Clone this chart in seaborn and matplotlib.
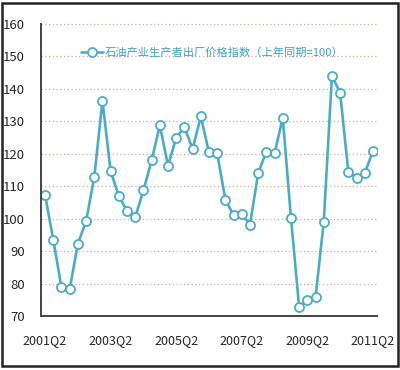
import pandas as pd
import seaborn as sns
import matplotlib.pyplot as plt
from matplotlib.patches import Rectangle

sns.set_style('white')
plt.rcParams['font.family'] = ['Liberation Sans Narrow', 'Noto Sans CJK SC', 'DejaVu Sans']

# quarterly labels, 2001Q2 .. 2011Q2
quarters = [f'{y}Q{q}' for y in range(2001, 2012) for q in range(1, 5)][1:42]
index_values = [107.3, 93.4, 78.8, 78.3, 92.3, 99.2, 112.8, 136.3, 114.6, 107.0,
                102.3, 100.5, 108.7, 118.0, 128.8, 116.3, 125.0, 128.2, 121.5, 131.5,
                120.4, 120.1, 105.8, 101.1, 101.3, 98.2, 114.0, 120.7, 120.1, 131.1,
                100.3, 72.7, 75.0, 75.8, 98.9, 144.0, 138.8, 114.5, 112.6, 114.0,
                120.8]
series_name = '石油产业生产者出厂价格指数（上年同期=100）'
y_ticks = [70, 80, 90, 100, 110, 120, 130, 140, 150, 160]
label_quarters = ['2001Q2', '2003Q2', '2005Q2', '2007Q2', '2009Q2', '2011Q2']

df = pd.DataFrame({'pos': range(len(quarters)), 'quarter': quarters, 'value': index_values})

line_color = '#4BACC6'

fig = plt.figure(figsize=(4, 3.7), dpi=100)
ax = fig.add_axes([0.1025, 0.146, 0.84, 0.789])

sns.lineplot(data=df, x='pos', y='value', ax=ax, color=line_color, linewidth=1.9,
             marker='o', markersize=6.5, markerfacecolor='white',
             markeredgecolor=line_color, markeredgewidth=1.3, label=series_name)

ax.set_xlim(-0.5, len(quarters) - 0.5)
ax.set_ylim(70, 160)
ax.set_yticks(y_ticks)
ax.set_yticklabels([str(v) for v in y_ticks], fontsize=9.5)
for v in y_ticks[1:]:
    ax.axhline(v, color='#D8A89C', linestyle=(0, (1, 2)), linewidth=0.9, zorder=0)

# tick marks between categories every 2 quarters, labels every 8 quarters
ax.set_xticks([p + 0.5 for p in range(1, len(quarters) - 1, 2)])
ax.set_xticklabels([])
ax.set_xticks([quarters.index(q) for q in label_quarters], minor=True)
ax.set_xticklabels(label_quarters, minor=True, fontsize=9)
ax.tick_params(axis='x', which='major', direction='in', length=4, width=1, color='#333333')
ax.tick_params(axis='x', which='minor', length=0, pad=13)
ax.tick_params(axis='y', direction='in', length=3, width=1, color='#333333', pad=11.5)
ax.set_xlabel('')
ax.set_ylabel('')

for side in ['top', 'right']:
    ax.spines[side].set_visible(False)
for side in ['left', 'bottom']:
    ax.spines[side].set_color('#444444')
    ax.spines[side].set_linewidth(1.4)

leg = ax.legend(loc='center', bbox_to_anchor=(0.51, 0.904), frameon=False,
                handlelength=2.0, handletextpad=0.15,
                prop={'family': ['Noto Sans CJK SC', 'DejaVu Sans'], 'size': 8.1})
for t in leg.get_texts():
    t.set_color('#3FA3C0')

fig.patches.append(Rectangle((0.004, 0.01), 0.99, 0.983, transform=fig.transFigure,
                             fill=False, edgecolor='#222222', linewidth=1.8))

fig.savefig('out.png', dpi=100)
